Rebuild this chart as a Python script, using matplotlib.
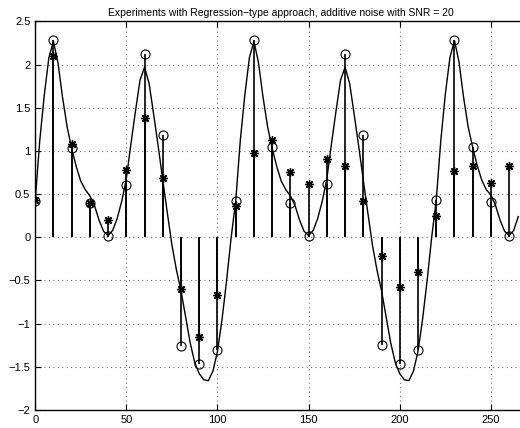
import numpy as np
import matplotlib
matplotlib.use('Agg')
import matplotlib.pyplot as plt

plt.rcParams['font.family'] = ['Liberation Sans', 'DejaVu Sans']

# sample positions
n = np.arange(0, 261, 10)

# true samples (circles)
circ = [0.42, 2.28, 1.03, 0.40, 0.02, 0.61, 2.12, 1.18, -1.26, -1.47, -1.31,
        0.42, 2.28, 1.04, 0.40, 0.02, 0.62, 2.12, 1.19, -1.25, -1.47, -1.31,
        0.43, 2.29, 1.04, 0.41, 0.02]

# noisy samples (stars)
star = [0.43, 2.10, 1.08, 0.40, 0.20, 0.78, 1.38, 0.69, -0.60, -1.16, -0.67,
        0.36, 0.98, 1.13, 0.76, 0.62, 0.91, 0.82, 0.42, -0.22, -0.58, -0.40,
        0.25, 0.77, 0.83, 0.63, 0.82]

# regression curve, every 2.5 units
curve_x = np.arange(0, 265.1, 2.5)
curve_y = [0.42, 1.12, 1.65, 2.08, 2.27, 2.02, 1.62, 1.28, 1.03, 0.82, 0.65,
           0.55, 0.48, 0.37, 0.20, 0.07, 0.02, 0.08, 0.22, 0.42, 0.68, 1.08,
           1.46, 1.82, 1.97, 1.78, 1.42, 1.05, 0.66, 0.28, -0.09, -0.38, -0.62,
           -0.92, -1.22, -1.45, -1.58, -1.65, -1.66, -1.55, -1.32, -0.95, -0.50,
           0.00,
           0.42, 1.12, 1.65, 2.08, 2.27, 2.02, 1.62, 1.28, 1.03, 0.82, 0.65,
           0.55, 0.48, 0.37, 0.20, 0.07, 0.02, 0.08, 0.22, 0.42, 0.68, 1.08,
           1.46, 1.82, 1.97, 1.78, 1.42, 1.05, 0.66, 0.28, -0.09, -0.38, -0.62,
           -0.92, -1.22, -1.45, -1.58, -1.65, -1.66, -1.55, -1.32, -0.95, -0.50,
           0.00,
           0.43, 1.12, 1.66, 2.08, 2.28, 2.03, 1.62, 1.28, 1.04, 0.83, 0.66,
           0.55, 0.49, 0.37, 0.20, 0.07, 0.02, 0.08, 0.24]

fig = plt.figure(figsize=(5.2, 4.28), dpi=100)
ax = fig.add_axes([0.0677, 0.042, 0.9465, 0.908])

for vals, mk, ms, mew in [(circ, 'o', 6.5, 0.8), (star, (8, 2, 0), 6, 1.0)]:
    ml, sl, bl = ax.stem(n, vals, basefmt=' ')
    sl.set_color('k')
    sl.set_linewidth(1.2)
    ml.set_marker(mk)
    ml.set_markersize(ms)
    ml.set_markerfacecolor('none')
    ml.set_markeredgecolor('k')
    ml.set_markeredgewidth(mew)

ax.plot(curve_x, curve_y, color='k', lw=1.0, solid_joinstyle='round')

ax.set_xlim(0, 270)
ax.set_ylim(-2, 2.5)
ax.set_xticks([0, 50, 100, 150, 200, 250])
ax.set_yticks(np.arange(-2, 2.51, 0.5))
ax.set_yticklabels(['\u22122', '\u22121.5', '\u22121', '\u22120.5', '0',
                    '0.5', '1', '1.5', '2', '2.5'])
ax.grid(True, color='#777777', linestyle=(0, (1, 3)), linewidth=0.8)
ax.tick_params(direction='in', labelsize=8, length=4, top=True, right=True)
for s in ax.spines.values():
    s.set_linewidth(1.0)

ax.set_title('Experiments with Regression\u2212type approach, additive noise with SNR = 20',
             fontsize=7.5, pad=4)

fig.savefig('out.png', dpi=100)
